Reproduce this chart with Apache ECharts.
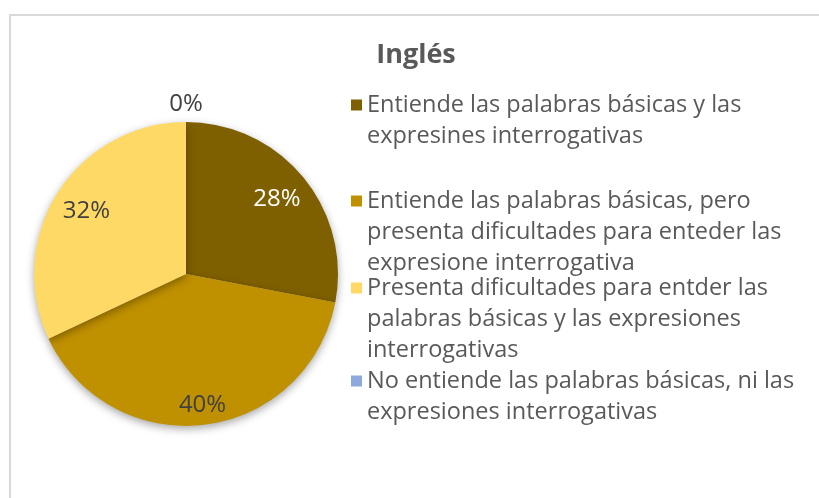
<!DOCTYPE html>
<html lang="es">

<head>
    <meta charset="UTF-8">
    <title>Inglés</title>
    <script src="https://cdn.jsdelivr.net/npm/echarts@6/dist/echarts.min.js"></script>
    <style>
        html, body {
            margin: 0;
            padding: 0;
            background: #ffffff;
        }

        #chart {
            width: 819px;
            height: 498px;
        }
    </style>
</head>

<body>
    <div id="chart"></div>
    <script>
        // datos (conteos: 28% / 40% / 32% / 0%)
        const categorias = [
            'Entiende las palabras básicas y las expresines interrogativas',
            'Entiende las palabras básicas, pero presenta dificultades para enteder las expresione interrogativa',
            'Presenta dificultades para entder las palabras básicas y las expresiones interrogativas',
            'No entiende las palabras básicas, ni las expresiones interrogativas'
        ];
        const valores = [7, 10, 8, 0];
        const colores = ['#7F6000', '#BF9000', '#FFD966', '#8EA9DB'];
        const coloresEtiqueta = ['#ffffff', '#404040', '#404040', '#404040'];
        // cortes de linea de la leyenda, como en el original
        const lineasLeyenda = [
            ['Entiende las palabras básicas y las', 'expresines interrogativas'],
            ['Entiende las palabras básicas, pero', 'presenta dificultades para enteder las', 'expresione interrogativa'],
            ['Presenta dificultades para entder las', 'palabras básicas y las expresiones', 'interrogativas'],
            ['No entiende las palabras básicas, ni las', 'expresiones interrogativas']
        ];

        // maquetacion
        const filaLeyenda = [105, 201, 288, 381]; // centro de la primera linea de cada entrada
        const distEtiqueta = [115, 129, 115, 167]; // distancia de cada etiqueta al centro
        const fuente = 'Open Sans';
        const altoLinea = 31;
        const centro = [186, 274];
        const radio = 152;

        const chart = echarts.init(document.getElementById('chart'));

        // una leyenda por entrada; las lineas en blanco al principio
        // dejan el cuadro de color a la altura de la primera linea
        const leyendas = categorias.map(function (nombre, i) {
            const n = lineasLeyenda[i].length;
            return {
                orient: 'vertical',
                left: 351,
                top: filaLeyenda[i] - (n - 0.5) * altoLinea,
                padding: 0,
                itemWidth: 11,
                itemHeight: 11,
                icon: 'rect',
                selectedMode: false,
                data: [nombre],
                formatter: function (name) {
                    const lineas = lineasLeyenda[categorias.indexOf(name)];
                    return new Array(lineas.length).join('\n') + lineas.join('\n');
                },
                textStyle: {
                    fontFamily: fuente,
                    fontSize: 23.5,
                    lineHeight: altoLinea,
                    color: '#595959'
                }
            };
        });

        const datos = categorias.map(function (nombre, i) {
            return {
                name: nombre,
                value: valores[i],
                itemStyle: { color: colores[i] }
            };
        });

        // un anillo invisible por etiqueta, para fijar su distancia al centro
        const seriesEtiquetas = distEtiqueta.map(function (d, k) {
            return {
                type: 'pie',
                center: centro,
                radius: [d - 20, d + 20],
                startAngle: 90,
                clockwise: true,
                silent: true,
                legendHoverLink: false,
                itemStyle: { color: 'transparent', borderWidth: 0 },
                labelLine: { show: false },
                data: categorias.map(function (nombre, i) {
                    return {
                        name: nombre,
                        value: valores[i],
                        label: {
                            show: i === k,
                            position: 'inside',
                            formatter: '{d}%',
                            fontFamily: fuente,
                            fontSize: 24,
                            color: coloresEtiqueta[i]
                        }
                    };
                })
            };
        });

        chart.setOption({
            animation: false,
            title: {
                text: 'Inglés',
                left: 411,
                top: 34,
                textAlign: 'center',
                textStyle: {
                    fontFamily: fuente,
                    fontSize: 27,
                    lineHeight: 32,
                    fontWeight: 'bold',
                    color: '#595959'
                }
            },
            graphic: [{
                type: 'rect',
                silent: true,
                z: -10,
                shape: { x: 10, y: 15, width: 900, height: 600 },
                style: { fill: 'none', stroke: '#d9d9d9', lineWidth: 2 }
            }],
            legend: leyendas,
            series: [
                {
                    type: 'pie',
                    center: centro,
                    radius: [0, radio],
                    startAngle: 90,
                    clockwise: true,
                    silent: true,
                    label: { show: false },
                    labelLine: { show: false },
                    itemStyle: {
                        borderWidth: 0,
                        shadowBlur: 8,
                        shadowOffsetY: 3,
                        shadowColor: 'rgba(0,0,0,0.35)'
                    },
                    data: datos
                }
            ].concat(seriesEtiquetas)
        });
    </script>
</body>

</html>
